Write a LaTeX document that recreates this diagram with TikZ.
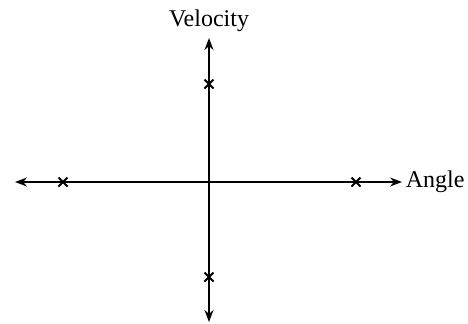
\documentclass[tikz,border=0pt]{standalone}
\usepackage{fontspec}
\setmainfont{Liberation Serif}
\usetikzlibrary{shapes.misc,arrows.meta}

\begin{document}
\begin{tikzpicture}[x=0.5pt,y=-0.5pt,line width=0.8pt,font=\large,
  pole/.style={cross out,draw,line width=1pt,minimum size=3.5pt,inner sep=0pt}]
  \useasboundingbox (0,0) rectangle (468,323);
  \coordinate (O) at (209,182);
  \coordinate (L) at (15,182);
  \coordinate (R) at (402,182);
  \coordinate (T) at (209,38);
  \coordinate (B) at (209,322);
  % poles on the axes
  \node[pole] (P1) at (63,182) {};
  \node[pole] (P2) at (356,182) {};
  \node[pole] (P3) at (209,84) {};
  \node[pole] (P4) at (209,277) {};
  \node[anchor=west,inner sep=1.5pt] (angle) at (R) {Angle};
  \node[anchor=south,inner sep=3pt] (vel) at (T) {Velocity};
  \path[-{Stealth[length=6pt,width=4.5pt]}] (O) edge (L) (O) edge (R)
    (O) edge (T) (O) edge (B);
\end{tikzpicture}
\end{document}
